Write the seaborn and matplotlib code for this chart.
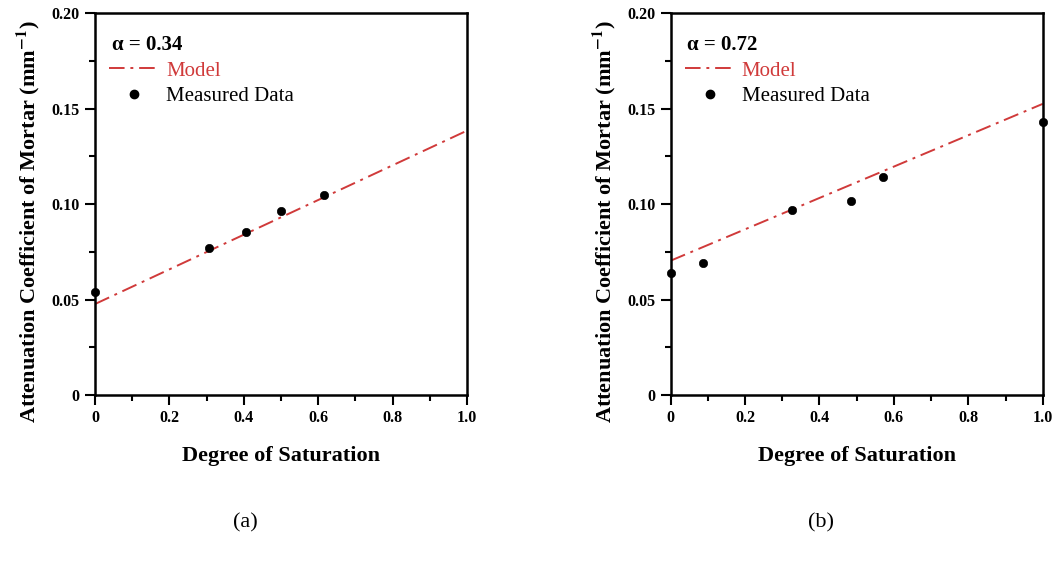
import numpy as np
import pandas as pd
import matplotlib.pyplot as plt
import seaborn as sns
from matplotlib.ticker import MultipleLocator
from matplotlib.lines import Line2D

sat_a = [0.0, 0.305, 0.405, 0.50, 0.615]
att_a = [0.0538, 0.0769, 0.0852, 0.0966, 0.1048]
sat_b = [0.0, 0.088, 0.326, 0.484, 0.571, 1.0]
att_b = [0.0641, 0.0693, 0.0969, 0.1017, 0.1142, 0.1429]

# model line end points
model_x = [0.0, 1.0]
model_a = [0.0477, 0.1385]
model_b = [0.0704, 0.1525]

alphas = ["0.34", "0.72"]
panel_labels = ["(a)", "(b)"]

sns.set_theme(style="ticks")
plt.rcParams['font.family'] = ['Liberation Serif', 'DejaVu Serif']
plt.rcParams['mathtext.fontset'] = 'stix'
for k in ['text.color', 'axes.labelcolor', 'xtick.color', 'ytick.color', 'axes.edgecolor']:
    plt.rcParams[k] = 'black'

fig = plt.figure(figsize=(10.57, 5.71), dpi=100)
ax_a = fig.add_axes([0.0899, 0.308, 0.352, 0.669])
ax_b = fig.add_axes([0.6345, 0.308, 0.352, 0.669])

red = '#d03a3a'
dash = (0, (8, 3, 1.5, 3))

panels = [
    (ax_a, sat_a, att_a, model_a, alphas[0], panel_labels[0]),
    (ax_b, sat_b, att_b, model_b, alphas[1], panel_labels[1]),
]

for ax, xs, ys, my, alpha, lab in panels:
    df_m = pd.DataFrame({'x': model_x, 'y': my})
    df_d = pd.DataFrame({'x': xs, 'y': ys})
    sns.lineplot(data=df_m, x='x', y='y', ax=ax, color=red, lw=1.4,
                 linestyle=dash)
    sns.scatterplot(data=df_d, x='x', y='y', ax=ax, color='black', s=36,
                    edgecolor='black', zorder=5, clip_on=False)

    ax.set_xlim(0, 1.0)
    ax.set_ylim(0, 0.20)
    ax.xaxis.set_minor_locator(MultipleLocator(0.1))
    ax.yaxis.set_minor_locator(MultipleLocator(0.025))
    ax.set_xticks([0, 0.2, 0.4, 0.6, 0.8, 1.0])
    ax.set_xticklabels(['0', '0.2', '0.4', '0.6', '0.8', '1.0'])
    ax.set_yticks([0, 0.05, 0.10, 0.15, 0.20])
    ax.set_yticklabels(['0', '0.05', '0.10', '0.15', '0.20'])
    for t in ax.get_xticklabels() + ax.get_yticklabels():
        t.set_fontweight('bold')
        t.set_fontsize(11.5)
    ax.tick_params(which='major', direction='out', length=7, width=1.5, pad=4)
    ax.tick_params(which='minor', direction='out', length=4, width=1.5)
    ax.tick_params(top=False, right=False, which='both')
    for sp in ax.spines.values():
        sp.set_visible(True)
        sp.set_linewidth(1.8)
        sp.set_color('black')

    ax.set_xlabel('Degree of Saturation', fontsize=16, fontweight='bold', labelpad=14)
    ax.set_ylabel(r'Attenuation Coefficient of Mortar (mm$^{\mathbf{-1}}$)',
                  fontsize=16, fontweight='bold')
    ax.yaxis.set_label_coords(-0.142, 0.455)

    ax.text(0.045, 0.917, '\u03b1 = ' + alpha, transform=ax.transAxes,
            fontsize=15, fontweight='bold', va='center', ha='left')

    handles = [
        Line2D([], [], color=red, lw=1.4, linestyle=dash),
        Line2D([], [], color='black', marker='o', ls='none', markersize=6),
    ]
    leg = ax.legend(handles, ['Model', 'Measured Data'], loc='upper left',
                    bbox_to_anchor=(-0.002, 0.913), frameon=False, fontsize=15,
                    handlelength=2.4, handletextpad=0.35, labelspacing=0.3,
                    borderpad=0.2)
    leg.get_texts()[0].set_color(red)

    fig.text(ax.get_position().x0 + ax.get_position().width * 0.405, 0.085, lab,
             fontsize=16, ha='center', va='center')

fig.savefig('out.png', dpi=100)
